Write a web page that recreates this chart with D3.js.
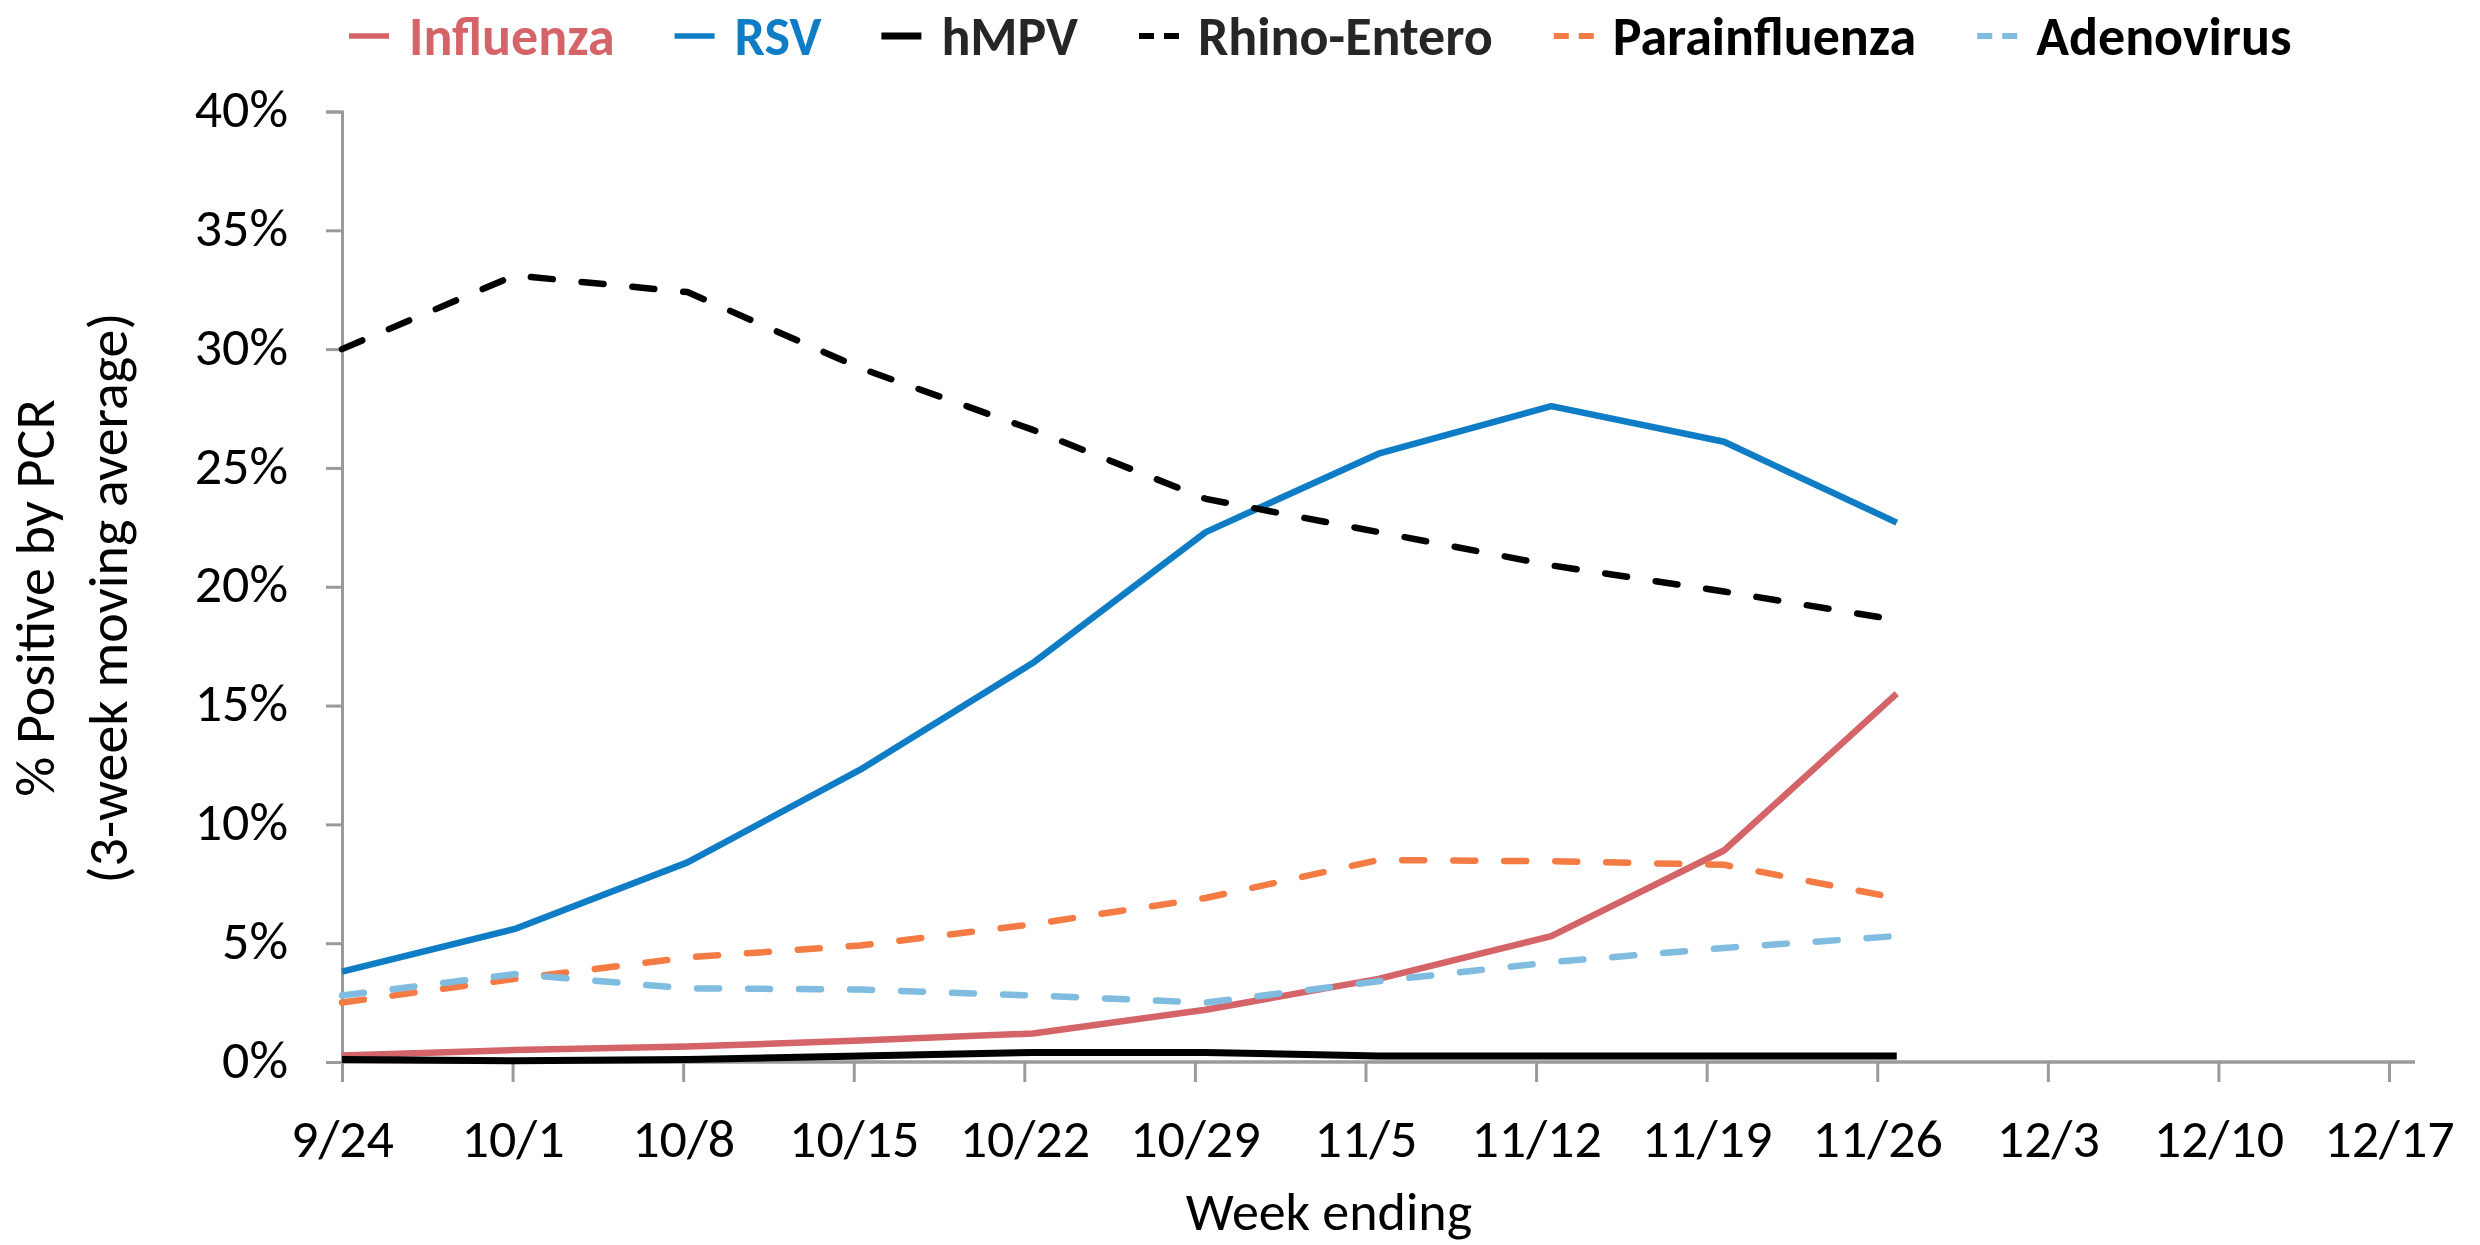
<!DOCTYPE html>
<html>
<head>
<meta charset="utf-8">
<script src="https://cdn.jsdelivr.net/npm/d3@7"></script>
<style>
  html, body { margin: 0; padding: 0; background: #fff; }
  svg { display: block; }
  text { font-family: Carlito, Calibri, Lato, "Open Sans", sans-serif; }
</style>
</head>
<body>
<script>
// ---- Data ----
const weeks = ["9/24","10/1","10/8","10/15","10/22","10/29","11/5","11/12","11/19","11/26","12/3","12/10","12/17"];
const yTicks = [0, 5, 10, 15, 20, 25, 30, 35, 40];

const influenza    = [0.27, 0.5, 0.65, 0.9, 1.2, 2.2, 3.5, 5.3, 8.9, 15.5];
const rsv          = [3.8, 5.6, 8.4, 12.3, 16.8, 22.3, 25.6, 27.6, 26.1, 22.7];
const hmpv         = [0.1, 0.05, 0.1, 0.25, 0.4, 0.4, 0.25, 0.25, 0.25, 0.25];
const rhinoEntero  = [30.0, 33.1, 32.4, 29.2, 26.6, 23.7, 22.3, 20.9, 19.8, 18.6];
const parainfluenza= [2.5, 3.5, 4.4, 4.9, 5.8, 6.9, 8.5, 8.45, 8.3, 6.9];
const adenovirus   = [2.8, 3.7, 3.1, 3.05, 2.8, 2.5, 3.4, 4.2, 4.8, 5.3];

const seriesNames  = ["Influenza","RSV","hMPV","Rhino-Entero","Parainfluenza","Adenovirus"];
const seriesValues = [influenza, rsv, hmpv, rhinoEntero, parainfluenza, adenovirus];

// ---- Styles ----
const lineColors = ["#D46468", "#0F7CC6", "#000000", "#000000", "#F47C44", "#7FBCDF"];
const textColors = ["#D46468", "#0F7CC6", "#262626", "#262626", "#000000", "#000000"];
const dashed     = [false, false, false, true, true, true];

const W = 2480, H = 1245;
const FS = 54;
const svg = d3.select("body").append("svg").attr("width", W).attr("height", H);

// axis tick positions and (slightly wider) data positions, as in the original figure
const x = d3.scalePoint().domain(weeks).range([342, 2389]);
const xData = d3.scalePoint().domain(weeks).range([342, 2415]);
const y = d3.scaleLinear().domain([0, 40]).range([1062, 111.5]);
const axisRight = 2415;

const axisColor = "#9a9a9a";

// Y axis
const gy = svg.append("g").attr("transform", `translate(${x(weeks[0])},0)`)
  .call(d3.axisLeft(y).tickValues(yTicks).tickSize(16).tickPadding(38).tickFormat(d => d + "%"));
gy.select(".domain").attr("stroke", axisColor).attr("stroke-width", 3);
gy.selectAll(".tick line").attr("stroke", axisColor).attr("stroke-width", 3);
gy.selectAll(".tick text").attr("font-size", FS).attr("fill", "#000")
  .attr("dy", "0.28em")
  .style("font-family", "Carlito, Calibri, Lato, sans-serif");

// X axis
const gx = svg.append("g").attr("transform", `translate(0,${y(0)})`)
  .call(d3.axisBottom(x).tickSize(20).tickPadding(36));
gx.select(".domain").remove();
gx.append("line").attr("x1", x(weeks[0])).attr("x2", axisRight)
  .attr("y1", 0).attr("y2", 0).attr("stroke", axisColor).attr("stroke-width", 3.5);
gx.selectAll(".tick line").attr("stroke", axisColor).attr("stroke-width", 3);
gx.selectAll(".tick text").attr("font-size", FS).attr("fill", "#000")
  .attr("dy", "0.72em")
  .style("font-family", "Carlito, Calibri, Lato, sans-serif");

// Axis titles
svg.append("text").attr("x", 1329).attr("y", 1230).attr("text-anchor", "middle")
  .attr("font-size", FS).attr("fill", "#000").text("Week ending");
const yt = svg.append("g").attr("transform", "translate(0,598)");
yt.append("text").attr("transform", "translate(54,0) rotate(-90)").attr("text-anchor", "middle")
  .attr("font-size", 56).attr("fill", "#000").text("% Positive by PCR");
yt.append("text").attr("transform", "translate(127,0) rotate(-90)").attr("text-anchor", "middle")
  .attr("font-size", 56).attr("fill", "#000").text("(3-week moving average)");

// Lines
const line = d3.line()
  .x((d, i) => xData(weeks[i]))
  .y(d => y(d))
  .curve(d3.curveLinear);

seriesValues.forEach((vals, k) => {
  svg.append("path")
    .attr("d", line(vals))
    .attr("fill", "none")
    .attr("stroke", lineColors[k])
    .attr("stroke-width", k === 2 ? 7 : 6.5)
    .attr("stroke-linecap", dashed[k] ? "round" : "butt")
    .attr("stroke-linejoin", "round")
    .attr("stroke-dasharray", dashed[k] ? "22,29" : null);
});

// Legend
const lg = svg.append("g");
let cx = 349;
const ly = 36;
seriesNames.forEach((name, k) => {
  if (dashed[k]) {
    lg.append("line").attr("x1", cx + 1).attr("x2", cx + 16).attr("y1", ly).attr("y2", ly)
      .attr("stroke", lineColors[k]).attr("stroke-width", 6);
    lg.append("line").attr("x1", cx + 26).attr("x2", cx + 41).attr("y1", ly).attr("y2", ly)
      .attr("stroke", lineColors[k]).attr("stroke-width", 6);
  } else {
    lg.append("line").attr("x1", cx).attr("x2", cx + 40).attr("y1", ly).attr("y2", ly)
      .attr("stroke", lineColors[k]).attr("stroke-width", k === 2 ? 7 : 5.5);
  }
  const t = lg.append("text").attr("x", cx + 60).attr("y", ly + 19)
    .attr("font-size", FS).attr("font-weight", "bold").attr("fill", textColors[k]).text(name);
  const w = t.node().getComputedTextLength();
  cx = cx + 60 + w + 60;
});
</script>
</body>
</html>
